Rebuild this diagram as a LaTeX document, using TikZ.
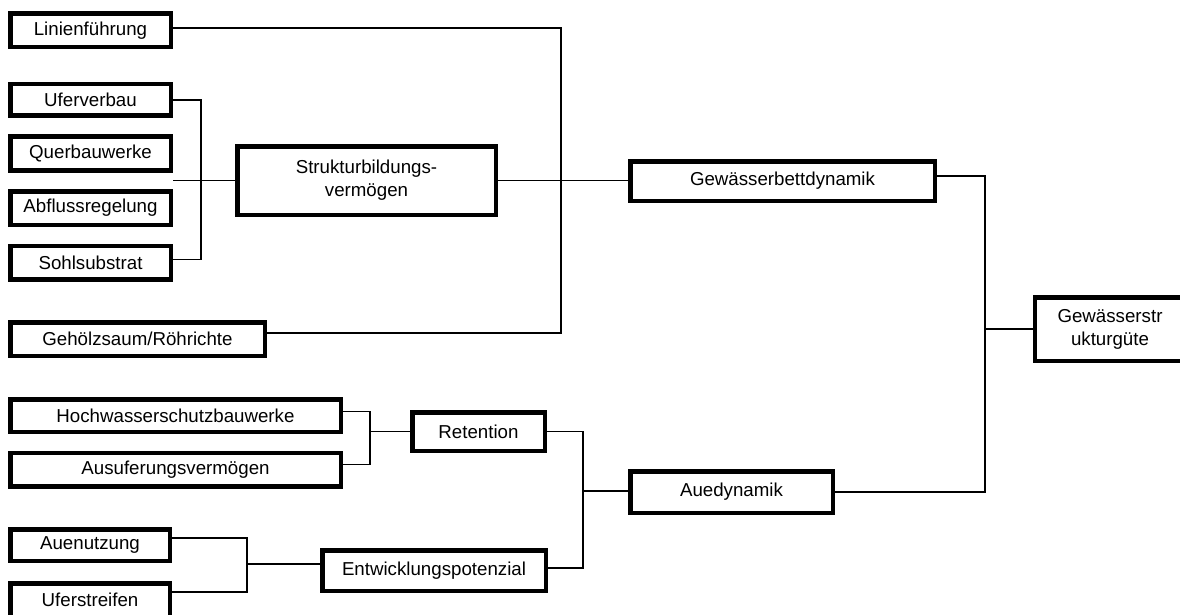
\documentclass[tikz,border=0pt]{standalone}
\usepackage{fontspec}
\setmainfont{Liberation Sans}
\usetikzlibrary{positioning}

\begin{document}
\begin{tikzpicture}[x=1pt, y=-1pt, node distance=16.5pt,
    box/.style={draw, line width=4.5pt, inner sep=0pt, minimum width=160.5pt,
      minimum height=33.5pt, align=center, font=\fontsize{18.7}{23}\selectfont},
    link/.style={line width=1.5pt}]
  \useasboundingbox (0,0) rectangle (1180,615);

  % Gewaesserbett
  \node[box] (lin) at (90.5,30.5) {Linienführung};
  \node[box, minimum height=31.5pt] (ufer) at (90.5,100) {Uferverbau};
  \node[box] (quer) [below=of ufer] {Querbauwerke};
  \node[box] (abfl) [below=of quer] {Abflussregelung};
  \node[box] (sohl) [below=of abfl] {Sohlsubstrat};
  \node[box, minimum width=254.5pt] (gehoelz) at (137.5,339) {Gehölzsaum/Röhrichte};
  \node[box, minimum width=258.5pt, minimum height=68.5pt] (struk) at (366.5,180.5) {Strukturbildungs-\\vermögen};
  \node[box, minimum width=304.5pt, minimum height=39.5pt] (gbett) at (782.5,181) {Gewässerbettdynamik};
  \node[box, minimum width=150pt, minimum height=63.5pt] (gsg) at (1110,329) {Gewässerstr\\ukturgüte};

  % Aue
  \node[box, minimum width=330.5pt, minimum height=32.5pt] (hoch) at (175.5,415.5) {Hochwasserschutzbauwerke};
  \node[box, minimum width=330.5pt] (ausuf) [below=of hoch] {Ausuferungsvermögen};
  \node[box, minimum width=132.5pt, minimum height=38.5pt] (ret) at (478.5,431.5) {Retention};
  \node[box, minimum width=159.5pt, minimum height=31.5pt] (auen) at (90,545) {Auenutzung};
  \node[box, minimum width=159.5pt] (ufst) [below=18pt of auen] {Uferstreifen};
  \node[box, minimum width=223.5pt, minimum height=40.5pt] (entw) at (434,570.5) {Entwicklungspotenzial};
  \node[box, minimum width=202.5pt, minimum height=41.5pt] (aue) at (731.5,492) {Auedynamik};

  \coordinate (j0) at (201,180);
  \coordinate (j1) at (561,180);
  \coordinate (j2) at (985,329);
  \coordinate (j3) at (370,431.5);
  \coordinate (j4) at (247,564);
  \coordinate (j5) at (583,491);

  \draw[link] (ufer.east) -| (j0) |- ([yshift=3pt]sohl.east);
  \draw[link] (quer.east |- struk.west) -- (struk.west);
  \draw[link] ([yshift=2.5pt]lin.east) -| (j1) |- ([yshift=6pt]gehoelz.east);
  \draw[link] (struk.east) -- (struk.east -| gbett.west);
  \draw[link] ([yshift=5pt]gbett.east) -| (j2) |- (aue.east);
  \draw[link] (j2) -- (gsg.west);

  \draw[link] ([yshift=4pt]hoch.east) -| (j3) |- ([yshift=5pt]ausuf.east);
  \draw[link] (j3) -- (ret.west);
  \draw[link] ([yshift=7pt]auen.east) -| (j4) |- ([yshift=8pt]ufst.east);
  \draw[link] (j4) -- (j4 -| entw.west);
  \draw[link] (ret.east) -| (j5) |- ([yshift=2.5pt]entw.east);
  \draw[link] (j5) -- (j5 -| aue.west);
\end{tikzpicture}
\end{document}
